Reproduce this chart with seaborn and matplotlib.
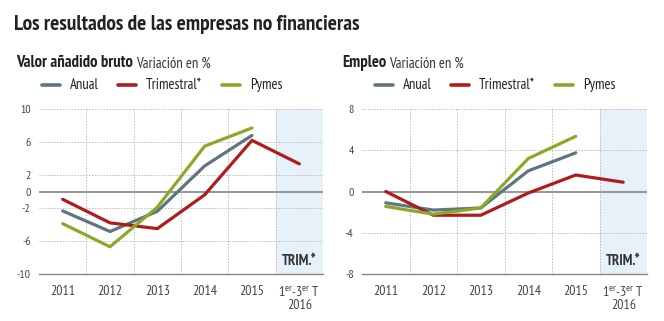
import numpy as np
import pandas as pd
import matplotlib
matplotlib.use("Agg")
import matplotlib.pyplot as plt
import seaborn as sns
from matplotlib import font_manager as fm

categories = ["2011", "2012", "2013", "2014", "2015", "1$^{\\rm er}$-3$^{\\rm er}$ T\n2016"]
series_names = ["Anual", "Trimestral*", "Pymes"]

vab_anual = [-2.35, -4.85, -2.4, 3.1, 6.8, None]
vab_trimestral = [-0.95, -3.8, -4.5, -0.4, 6.2, 3.35]
vab_pymes = [-3.9, -6.7, -1.9, 5.5, 7.7, None]

emp_anual = [-1.1, -1.8, -1.6, 2.0, 3.75, None]
emp_trimestral = [0.0, -2.3, -2.3, -0.15, 1.6, 0.9]
emp_pymes = [-1.45, -2.2, -1.6, 3.2, 5.35, None]

vab_yticks = [10, 6, 2, 0, -2, -6, -10]
emp_yticks = [8, 4, 0, -4, -8]

colors = {"Anual": "#5e7582", "Trimestral*": "#b01b1b", "Pymes": "#8aaa27"}

sns.set_theme(style="white")
names = {f.name for f in fm.fontManager.ttflist}
narrow = "PT Sans Narrow" if "PT Sans Narrow" in names else "Liberation Sans"
plt.rcParams["font.family"] = [narrow, "DejaVu Sans"]
plt.rcParams["mathtext.fontset"] = "custom"
plt.rcParams["mathtext.rm"] = narrow
plt.rcParams["mathtext.it"] = narrow
plt.rcParams["mathtext.bf"] = narrow + ":bold"

fig = plt.figure(figsize=(6.64, 3.21), dpi=100)
W, H = 664, 321

def make_df(a, t, p):
    rows = []
    for name, vals in zip(series_names, [a, t, p]):
        for i, v in enumerate(vals):
            if v is not None:
                rows.append({"pos": i, "value": v, "serie": name})
    return pd.DataFrame(rows)

def panel(x0, x1, data, yticks, ylim, title_b, title_n, tx, leg):
    ax = fig.add_axes([x0 / W, 1 - 274 / H, (x1 - x0) / W, 165 / H])
    df = make_df(*data)
    n = len(categories)
    ax.axvspan(n - 1.5, n - 0.5, color="#e6f1f9", zorder=0, lw=0)
    for yv in yticks:
        if yv not in (0, ylim[0]):
            ax.axhline(yv, color="#bbbbbb", lw=0.7, ls=(0, (1.5, 1.5)), zorder=1)
    for xv in np.arange(0.5, n - 0.5, 1):
        ax.axvline(xv, ymin=0, ymax=1, color="#bbbbbb", lw=0.7, ls=(0, (1.5, 1.5)), zorder=1)
    ax.axhline(0, color="#999999", lw=1.5, zorder=2)
    sns.lineplot(data=df, x="pos", y="value", hue="serie", hue_order=series_names,
                 palette=colors, estimator=None, sort=False, lw=2.3, ax=ax,
                 legend=False, zorder=3)
    ax.set_xlim(-0.5, n - 0.5)
    ax.set_ylim(*ylim)
    ax.set_xticks(range(n))
    ax.set_xticklabels(categories, fontsize=10, color="#444444", linespacing=1.0)
    ax.set_yticks(yticks)
    ax.set_yticklabels([str(v) for v in yticks], fontsize=8.5, color="#444444")
    ax.tick_params(axis="both", length=0, pad=6)
    ax.tick_params(axis="x", pad=8)
    ax.set_xlabel("")
    ax.set_ylabel("")
    for s in ["top", "right", "left"]:
        ax.spines[s].set_visible(False)
    ax.spines["bottom"].set_color("#888888")
    ax.spines["bottom"].set_linewidth(1.0)
    ax.text(n - 1, ylim[0] + (ylim[1] - ylim[0]) * 0.08, "TRIM.*", ha="center",
            va="center", fontsize=10.5, fontweight="bold", color="#333333")
    t1 = fig.text(tx / W, 1 - 63 / H, title_b, fontsize=12, fontweight="bold",
                  color="#222222", va="center", ha="left")
    fig.canvas.draw()
    bb = t1.get_window_extent()
    fig.text(bb.x1 / W + 3 / W, 1 - 63.5 / H, title_n, fontsize=10.5, color="#333333",
             va="center", ha="left")
    for (lx, name) in zip(leg, series_names):
        fig.add_artist(plt.Line2D([lx / W, (lx + 18) / W], [1 - 85 / H] * 2,
                                  color=colors[name], lw=2.6, transform=fig.transFigure))
        fig.text((lx + 28) / W, 1 - 85 / H, name, fontsize=10.5, color="#222222",
                 va="center", ha="left")
    return ax

fig.text(14 / W, 1 - 25 / H, "Los resultados de las empresas no financieras",
         fontsize=15.5, fontweight="bold", color="#222222", va="center", ha="left")

panel(39, 323, (vab_anual, vab_trimestral, vab_pymes), vab_yticks, (-10, 10),
      "Valor añadido bruto", "Variación en %", 16, [42, 118, 222])
panel(362, 647, (emp_anual, emp_trimestral, emp_pymes), emp_yticks, (-8, 8),
      "Empleo", "Variación en %", 342, [375, 451, 555])

fig.savefig("out.png", dpi=100)
